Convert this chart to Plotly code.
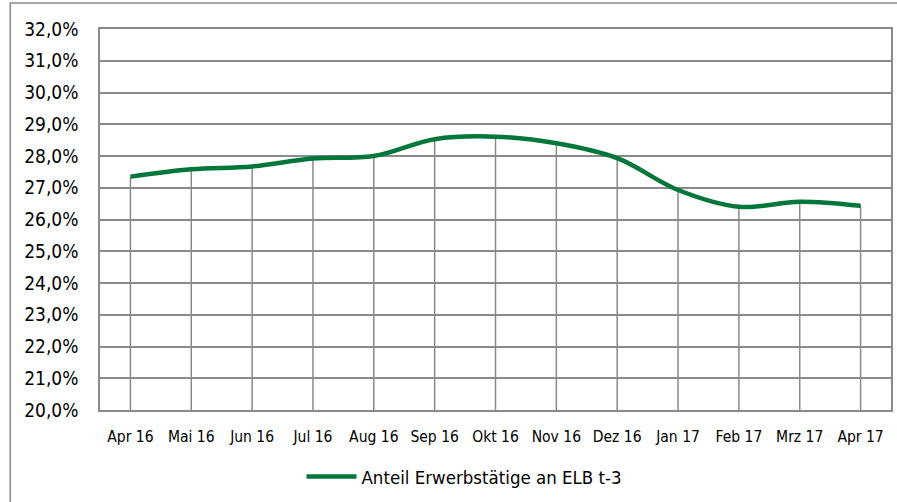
import plotly.graph_objects as go

categories = ["Apr 16", "Mai 16", "Jun 16", "Jul 16", "Aug 16", "Sep 16", "Okt 16",
              "Nov 16", "Dez 16", "Jan 17", "Feb 17", "Mrz 17", "Apr 17"]
values = [27.35, 27.58, 27.67, 27.92, 28.0, 28.53, 28.61, 28.40, 27.93, 26.93, 26.40, 26.56, 26.43]
series_name = "Anteil Erwerbstätige an ELB t-3"
y_min, y_max = 20, 32
y_ticks = list(range(20, 33))
y_tick_labels = [f"{v},0%" for v in y_ticks]

FONT = "DejaVu Sans Condensed, DejaVu Sans, sans-serif"
GRID = "#8a8a8a"
GREEN = "#00773A"

W, H = 897, 502
ML, MR, MT, MB = 100, 4, 29, 92
pw = W - ML - MR
ph = H - MT - MB

# drop lines from each point down to the axis
dx, dy = [], []
for c, v in zip(categories, values):
    dx += [c, c, None]
    dy += [y_min, v, None]

fig = go.Figure()
fig.add_trace(go.Scatter(x=dx, y=dy, mode="lines", line=dict(color=GRID, width=1.5),
                         showlegend=False, hoverinfo="skip"))
fig.add_trace(go.Scatter(x=categories, y=values, mode="lines", name=series_name,
                         line=dict(color=GREEN, width=4.5, shape="spline", smoothing=1.0)))

def px_x(p):
    return (p - ML) / pw

def px_y(p):
    return (H - MB - p) / ph

fig.add_shape(type="rect", xref="paper", yref="paper",
              x0=px_x(10), x1=px_x(905), y0=px_y(510), y1=px_y(3),
              line=dict(color=GRID, width=1.5), fillcolor="rgba(0,0,0,0)", layer="below")

fig.update_layout(
    width=W, height=H,
    margin=dict(l=ML, r=MR, t=MT, b=MB),
    paper_bgcolor="white", plot_bgcolor="white",
    font=dict(family=FONT, color="black"),
    legend=dict(orientation="h", x=px_x(302), xanchor="left", y=px_y(477), yanchor="middle",
                font=dict(size=18.5, family=FONT), itemwidth=50, bgcolor="rgba(0,0,0,0)"),
    xaxis=dict(type="category", categoryorder="array", categoryarray=categories,
               range=[-0.5, len(categories) - 0.5], showgrid=False,
               showline=True, linecolor=GRID, linewidth=1.5, mirror=True,
               tickfont=dict(size=15.5, family=FONT), ticks="", ticklabelstandoff=12),
    yaxis=dict(range=[y_min, y_max], tickvals=y_ticks, ticktext=y_tick_labels,
               showgrid=True, gridcolor=GRID, gridwidth=1.5, zeroline=False,
               showline=True, linecolor=GRID, linewidth=1.5, mirror=True,
               tickfont=dict(size=19, family=FONT), ticks="", ticklabelstandoff=16),
)

fig.write_html("out.html", config={"displayModeBar": False},
               post_script="document.body.style.margin='0';document.body.style.overflow='hidden';")
